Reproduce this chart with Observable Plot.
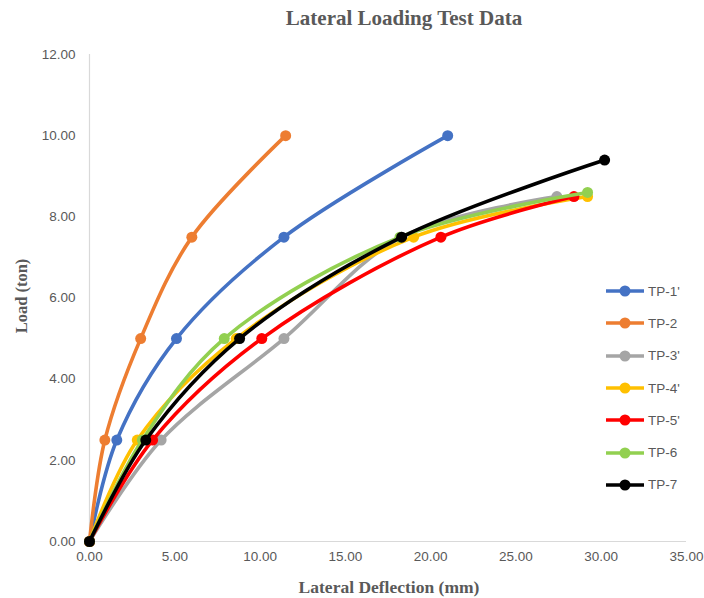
<!DOCTYPE html>
<html>
<head>
<meta charset="utf-8">
<script src="https://cdn.jsdelivr.net/npm/d3@7"></script>
<script src="https://cdn.jsdelivr.net/npm/@observablehq/plot@0.6"></script>
<style>
  html, body { margin: 0; padding: 0; background: #fff; }
  #wrap { position: relative; width: 704px; height: 598px; overflow: hidden; }
  #title { position: absolute; left: 0; width: 808px; top: 6px; text-align: center;
    font-family: "Liberation Serif", "DejaVu Serif", serif; font-weight: bold; font-size: 21px; color: #595959; }
  #ylab { position: absolute; left: 22px; top: 296px; transform: translate(-50%, -50%) rotate(-90deg);
    font-family: "Liberation Serif", serif; font-weight: bold; font-size: 16.5px; color: #595959; white-space: nowrap; }
  #xlab { position: absolute; left: 0; width: 778px; top: 577px; text-align: center;
    font-family: "Liberation Serif", serif; font-weight: bold; font-size: 17.5px; color: #595959; }
  #legend { position: absolute; left: 606px; top: 275px; font-family: "Liberation Sans", Arial, sans-serif; font-size: 13.5px; color: #595959; }
  .li { position: relative; height: 32.3px; display: flex; align-items: center; }
  .li svg { display: block; }
  .li span { margin-left: 3px; }
</style>
</head>
<body>
<div id="wrap">
  <div id="chart"></div>
  <div id="title">Lateral Loading Test Data</div>
  <div id="ylab">Load (ton)</div>
  <div id="xlab">Lateral Deflection (mm)</div>
  <div id="legend"></div>
</div>
<script>
const seriesNames = ["TP-1'", "TP-2", "TP-3'", "TP-4'", "TP-5'", "TP-6", "TP-7"];
const seriesColors = ["#4472C4", "#ED7D31", "#A5A5A5", "#FFC000", "#FF0000", "#92D050", "#000000"];

const tp1X = [0, 1.6, 5.1, 11.4, 21.0];
const tp1Y = [0, 2.5, 5.0, 7.5, 10.0];
const tp2X = [0, 0.9, 3.0, 6.0, 11.5];
const tp2Y = [0, 2.5, 5.0, 7.5, 10.0];
const tp3X = [0, 4.2, 11.4, 18.3, 27.4];
const tp3Y = [0, 2.5, 5.0, 7.5, 8.5];
const tp4X = [0, 2.8, 8.6, 19.0, 29.2];
const tp4Y = [0, 2.5, 5.0, 7.5, 8.5];
const tp5X = [0, 3.7, 10.1, 20.6, 28.4];
const tp5Y = [0, 2.5, 5.0, 7.5, 8.5];
const tp6X = [0, 3.1, 7.9, 18.2, 29.2];
const tp6Y = [0, 2.5, 5.0, 7.5, 8.6];
const tp7X = [0, 3.3, 8.8, 18.3, 30.2];
const tp7Y = [0, 2.5, 5.0, 7.5, 9.4];

const xTicks = [0, 5, 10, 15, 20, 25, 30, 35];
const yTicks = [0, 2, 4, 6, 8, 10, 12];

const allX = [tp1X, tp2X, tp3X, tp4X, tp5X, tp6X, tp7X];
const allY = [tp1Y, tp2Y, tp3Y, tp4Y, tp5Y, tp6Y, tp7Y];

const seriesData = seriesNames.map((name, i) =>
  allX[i].map((x, j) => ({series: name, x, y: allY[i][j]})));

const fmt = d3.format(".2f");
const marks = [];
marks.push(Plot.ruleX([0], {stroke: "#D9D9D9", strokeWidth: 1.2}));
marks.push(Plot.ruleY([0], {stroke: "#D9D9D9", strokeWidth: 1.2}));
marks.push(Plot.axisX({ticks: xTicks, tickFormat: fmt, tickSize: 0, tickPadding: 10, label: null,
  fontSize: 13.5, fill: "#595959"}));
marks.push(Plot.axisY({ticks: yTicks, tickFormat: fmt, tickSize: 0, tickPadding: 14, label: null,
  fontSize: 13.5, fill: "#595959"}));
seriesData.forEach((d, i) => {
  marks.push(Plot.line(d, {x: "x", y: "y", stroke: seriesColors[i], strokeWidth: 3.6, curve: "catmull-rom"}));
  marks.push(Plot.dot(d, {x: "x", y: "y", fill: seriesColors[i], r: 5.5}));
});

const chart = Plot.plot({
  width: 704,
  height: 598,
  marginLeft: 89,
  marginRight: 18,
  marginTop: 54,
  marginBottom: 57,
  x: {domain: [0, 35]},
  y: {domain: [0, 12]},
  style: {fontFamily: "'Liberation Sans', Arial, sans-serif", background: "#fff"},
  marks
});
document.getElementById("chart").appendChild(chart);

const leg = document.getElementById("legend");
seriesNames.forEach((name, i) => {
  const row = document.createElement("div");
  row.className = "li";
  row.innerHTML = `<svg width="39" height="14"><line x1="0" x2="38" y1="7" y2="7" stroke="${seriesColors[i]}" stroke-width="3.6"/><circle cx="19" cy="7" r="5.5" fill="${seriesColors[i]}"/></svg><span>${name}</span>`;
  leg.appendChild(row);
});
</script>
</body>
</html>
